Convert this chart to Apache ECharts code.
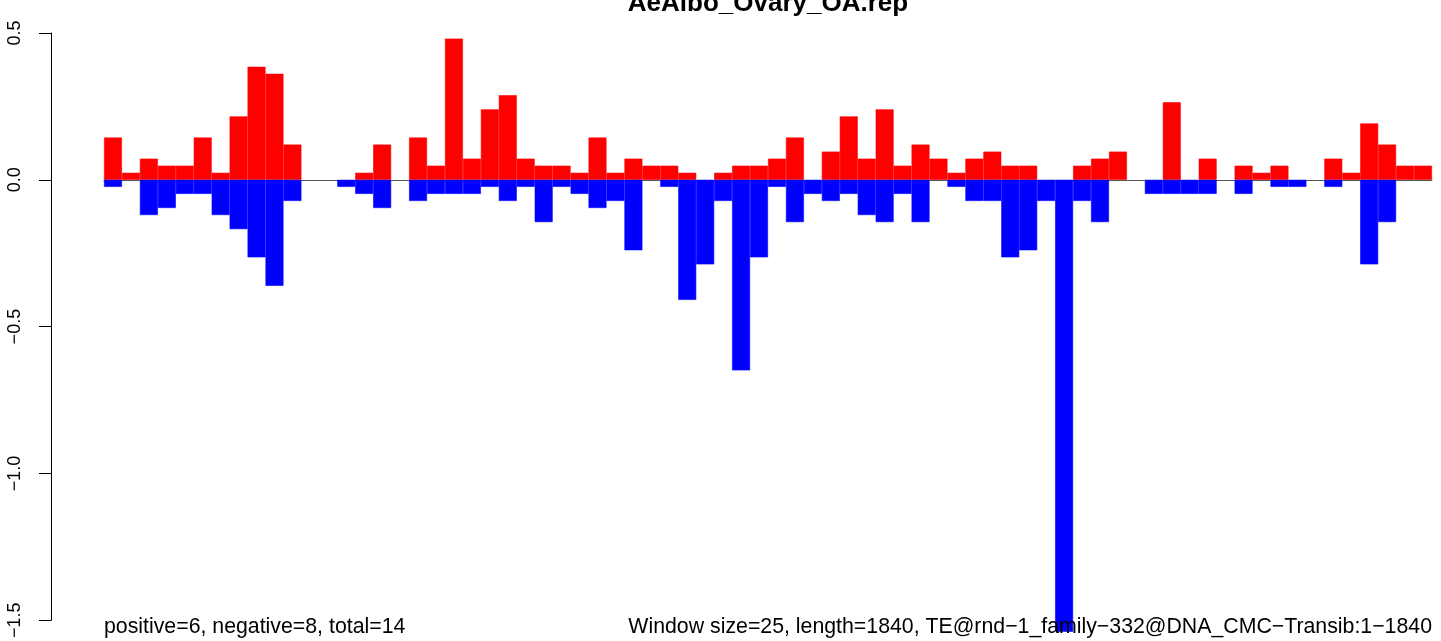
<!DOCTYPE html>
<html>
<head>
<meta charset="utf-8">
<script src="https://cdn.jsdelivr.net/npm/echarts@6/dist/echarts.min.js"></script>
<style>
html,body{margin:0;padding:0;background:#fff;}
#c{width:1441px;height:641px;}
</style>
</head>
<body>
<div id="c"></div>
<script>
const titleText = "AeAlbo_Ovary_OA.rep";
const leftNote = "positive=6, negative=8, total=14";
const rightNote = "Window size=25, length=1840, TE@rnd\u22121_family\u2212332@DNA_CMC\u2212Transib:1\u22121840";

const windows = [1,2,3,4,5,6,7,8,9,10,11,12,13,14,15,16,17,18,19,20,21,22,23,24,25,26,27,28,29,30,31,32,33,34,35,36,37,38,39,40,41,42,43,44,45,46,47,48,49,50,51,52,53,54,55,56,57,58,59,60,61,62,63,64,65,66,67,68,69,70,71,72,73,74];

const positive = [0.144,0.024,0.072,0.048,0.048,0.144,0.024,0.216,0.385,0.361,
  0.120,0,0,0,0.024,0.120,0,0.144,0.048,0.481,
  0.072,0.240,0.288,0.072,0.048,0.048,0.024,0.144,0.024,0.072,
  0.048,0.048,0.024,0,0.024,0.048,0.048,0.072,0.144,0,
  0.096,0.216,0.072,0.240,0.048,0.120,0.072,0.024,0.072,0.096,
  0.048,0.048,0,0,0.048,0.072,0.096,0,0,0.264,
  0,0.072,0,0.048,0.024,0.048,0,0,0.072,0.024,
  0.192,0.120,0.048,0.048];

const negative = [-0.024,0,-0.120,-0.096,-0.048,-0.048,-0.120,-0.168,-0.264,-0.361,
  -0.072,0,0,-0.024,-0.048,-0.096,0,-0.072,-0.048,-0.048,
  -0.048,-0.024,-0.072,-0.024,-0.144,-0.024,-0.048,-0.096,-0.072,-0.240,
  0,-0.024,-0.409,-0.288,-0.072,-0.649,-0.264,-0.024,-0.144,-0.048,
  -0.072,-0.048,-0.120,-0.144,-0.048,-0.144,0,-0.024,-0.072,-0.072,
  -0.264,-0.240,-0.072,-1.539,-0.072,-0.144,0,0,-0.048,-0.048,
  -0.048,-0.048,0,-0.048,0,-0.024,-0.024,0,-0.024,0,
  -0.288,-0.144,0,0];

const yMin = -1.5, yMax = 0.5, yStep = 0.5;

// zero-height windows are left empty so no outline is drawn for them
const nz = arr => arr.map(v => (v === 0 ? '-' : v));

const FONT = "'Liberation Sans', Arial, sans-serif";
const chart = echarts.init(document.getElementById('c'), null, {renderer:'canvas'});
chart.setOption({
  animation: false,
  backgroundColor: '#ffffff',
  grid: {left: 104, top: 33, width: 1328, height: 588, containLabel: false},
  xAxis: {
    type: 'category',
    data: windows,
    boundaryGap: true,
    axisLine: {show: true, onZero: true, lineStyle: {color: '#555555', width: 1}},
    axisTick: {show: false},
    axisLabel: {show: false},
    splitLine: {show: false}
  },
  yAxis: {
    type: 'value',
    min: yMin, max: yMax, interval: yStep,
    offset: 53,
    axisLine: {show: true, lineStyle: {color: '#000000', width: 1}},
    axisTick: {show: true, length: 12, lineStyle: {color: '#000000', width: 1}},
    splitLine: {show: false},
    axisLabel: {
      rotate: 90,
      margin: 27,
      color: '#000000',
      fontFamily: FONT,
      fontSize: 18,
      formatter: v => v.toFixed(1).replace('-', '\u2212')
    }
  },
  series: [
    {
      name: 'positive', type: 'bar', data: nz(positive),
      barWidth: '100%', barGap: '-100%', clip: false,
      itemStyle: {color: '#FF0000', borderColor: '#FF0000', borderWidth: 0.6}
    },
    {
      name: 'negative', type: 'bar', data: nz(negative),
      barWidth: '100%', barGap: '-100%', clip: false,
      itemStyle: {color: '#0000FF', borderColor: '#0000FF', borderWidth: 0.6}
    }
  ],
  graphic: [
    {type: 'text', x: 768, y: 4, z: 100,
     style: {text: titleText, font: "bold 26px " + FONT, fill: '#000', align: 'center', verticalAlign: 'middle'}},
    {type: 'text', x: 104, y: 627, z: 100,
     style: {text: leftNote, font: "21.3px " + FONT, fill: '#000', align: 'left', verticalAlign: 'middle'}},
    {type: 'text', x: 1432, y: 627, z: 100,
     style: {text: rightNote, font: "21.3px " + FONT, fill: '#000', align: 'right', verticalAlign: 'middle'}}
  ]
});
</script>
</body>
</html>
